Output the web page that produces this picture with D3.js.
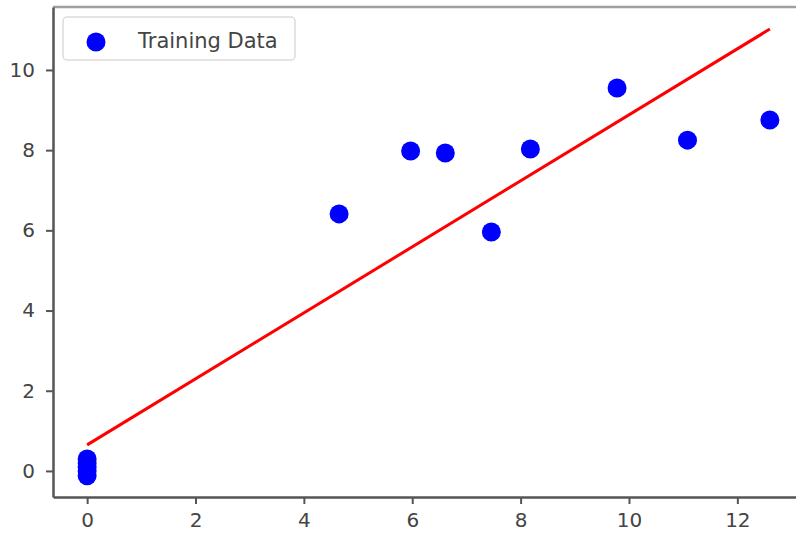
<!DOCTYPE html>
<html>
<head>
<meta charset="utf-8">
<script src="https://cdnjs.cloudflare.com/ajax/libs/d3/7.8.5/d3.min.js"></script>
<style>
    body { margin: 0; background: #fff; }
    .tick text { font-family: "DejaVu Sans", sans-serif; font-size: 20px; fill: #444; }
</style>
</head>
<body>
<div id="chart"></div>
<script>
// training points
let trainX = [0, 0, 0, 0, 0, 4.65, 5.97, 6.61, 7.46, 8.18, 9.78, 11.08, 12.6];
let trainY = [-0.12, 0.0, 0.1, 0.2, 0.3, 6.41, 7.98, 7.93, 5.96, 8.03, 9.55, 8.25, 8.75];

// fitted line
let lineX = [0, 12.6];
let lineY = [0.65, 11.02];

let xTicks = [0, 2, 4, 6, 8, 10, 12];
let yTicks = [0, 2, 4, 6, 8, 10];
let legendLabels = ["Training Data"];

let width = 796, height = 539;
let plot = {left: 53, right: 804, top: 7, bottom: 497};

let svg = d3.select("#chart")
    .append("svg")
    .attr("width", width)
    .attr("height", height);

let x = d3.scaleLinear()
    .domain([-0.63, 13.23])
    .range([plot.left, plot.right]);

let y = d3.scaleLinear()
    .domain([-0.65, 11.57])
    .range([plot.bottom, plot.top]);

let points = trainX.map(function(d, i) { return {x: d, y: trainY[i]}; });
let linePts = lineX.map(function(d, i) { return {x: d, y: lineY[i]}; });

// scatter
svg.append("g")
    .selectAll("circle")
    .data(points)
    .enter().append("circle")
    .attr("cx", function(d) { return x(d.x); })
    .attr("cy", function(d) { return y(d.y); })
    .attr("r", 9.5)
    .attr("fill", "#0000ff");

// regression line
svg.append("path")
    .datum(linePts)
    .attr("fill", "none")
    .attr("stroke", "#ff0000")
    .attr("stroke-width", 3)
    .attr("d", d3.line()
        .x(function(d) { return x(d.x); })
        .y(function(d) { return y(d.y); }));

// top spine
svg.append("line")
    .attr("x1", plot.left).attr("x2", width)
    .attr("y1", plot.top).attr("y2", plot.top)
    .attr("stroke", "#a0a0a0")
    .attr("stroke-width", 2.5);

// axes
let xAxis = svg.append("g")
    .attr("transform", "translate(0," + plot.bottom + ")")
    .call(d3.axisBottom(x).tickValues(xTicks).tickSize(7).tickPadding(9).tickSizeOuter(0));

let yAxis = svg.append("g")
    .attr("transform", "translate(" + plot.left + ",0)")
    .call(d3.axisLeft(y).tickValues(yTicks).tickSize(7).tickPadding(11).tickSizeOuter(0));

[xAxis, yAxis].forEach(function(a) {
    a.select(".domain").attr("stroke", "#555").attr("stroke-width", 2.5);
    a.selectAll(".tick line").attr("stroke", "#555").attr("stroke-width", 2);
    a.attr("font-family", null).attr("font-size", null);
});

// legend
let legend = svg.append("g")
    .attr("transform", "translate(63,17)");

legend.append("rect")
    .attr("width", 232)
    .attr("height", 43)
    .attr("rx", 4)
    .attr("fill", "#fff")
    .attr("fill-opacity", 0.8)
    .attr("stroke", "#dcdcdc")
    .attr("stroke-width", 1.5);

legend.selectAll("circle")
    .data(legendLabels)
    .enter().append("circle")
    .attr("cx", 33)
    .attr("cy", 25)
    .attr("r", 9.5)
    .attr("fill", "#0000ff");

legend.selectAll("text")
    .data(legendLabels)
    .enter().append("text")
    .attr("x", 75)
    .attr("y", 31)
    .attr("font-family", "DejaVu Sans, sans-serif")
    .attr("font-size", 21)
    .attr("fill", "#444")
    .text(function(d) { return d; });
</script>
</body>
</html>
